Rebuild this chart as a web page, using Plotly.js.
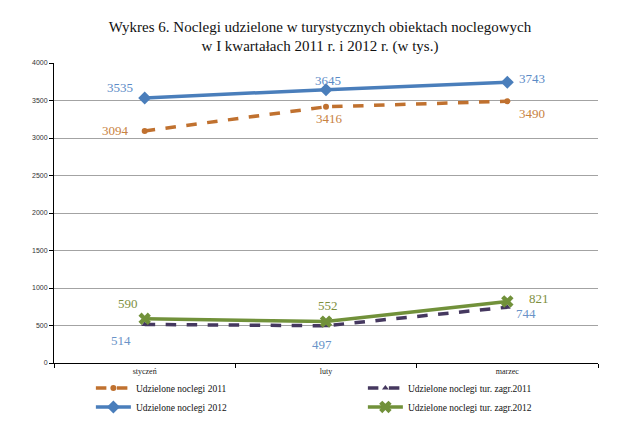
<!DOCTYPE html>
<html><head><meta charset="utf-8">
<script src="https://cdn.plot.ly/plotly-3.0.1.min.js"></script>
<style>body{margin:0;padding:0;background:#fff}#chart{width:640px;height:421px}</style>
</head><body><div id="chart"></div>
<script>
const months = ["styczeń", "luty", "marzec"];
const nocl2011 = [3094, 3416, 3490];
const nocl2012 = [3535, 3645, 3743];
const zagr2011 = [514, 497, 744];
const zagr2012 = [590, 552, 821];
const yTicks = [0, 500, 1000, 1500, 2000, 2500, 3000, 3500, 4000];

const cOrange = "#C0712F", cBlue = "#4A7EBB", cPurple = "#45385F", cGreen = "#71913A";
const lblOrange = "#C8823F", lblBlue = "#5B8AC6", lblGreen = "#7E8F3E", lblBlue2 = "#6A93C8";

const traces = [
  {x: months, y: nocl2011, name: "Udzielone noclegi 2011", mode: "lines+markers", legend: "legend",
   line: {color: cOrange, width: 3.5, dash: "dash"}, marker: {symbol: "circle", size: 6, color: cOrange}},
  {x: months, y: zagr2011, name: "Udzielone noclegi tur. zagr.2011", mode: "lines+markers", legend: "legend2",
   line: {color: cPurple, width: 3.5, dash: "dash"}, marker: {symbol: "triangle-up", size: 6, color: cPurple}},
  {x: months, y: nocl2012, name: "Udzielone noclegi 2012", mode: "lines+markers", legend: "legend",
   line: {color: cBlue, width: 3.5}, marker: {symbol: "diamond", size: 10, color: cBlue}},
  {x: months, y: zagr2012, name: "Udzielone noclegi tur. zagr.2012", mode: "lines+markers", legend: "legend2",
   line: {color: cGreen, width: 3.5}, marker: {symbol: "x", size: 11, color: cGreen, line: {width: 0}}}
];

const lf = {family: "Liberation Serif, Times New Roman, serif", size: 13};
function ann(i, arr, col, xs, ys) {
  return {x: months[i], y: arr[i], text: String(arr[i]), showarrow: false, xshift: xs, yshift: ys,
          font: Object.assign({}, lf, {color: col})};
}
const annotations = [
  ann(0, nocl2012, lblBlue, -25, 10), ann(1, nocl2012, lblBlue, 2, 9), ann(2, nocl2012, lblBlue, 25, 4),
  ann(0, nocl2011, lblOrange, -29, 0), ann(1, nocl2011, lblOrange, 3, -12), ann(2, nocl2011, lblOrange, 25, -12),
  ann(0, zagr2012, lblGreen, -17, 15), ann(1, zagr2012, lblGreen, 2, 16), ann(2, zagr2012, lblGreen, 32, 3),
  ann(0, zagr2011, lblBlue2, -24, -16), ann(1, zagr2011, lblBlue2, -4, -19), ann(2, zagr2011, lblBlue2, 19, -6)
];

const legFont = {family: "Liberation Serif, Times New Roman, serif", size: 9.5, color: "#111"};
const legCommon = {orientation: "h", xref: "container", yref: "container", xanchor: "left", y: 0.113, yanchor: "top",
                   traceorder: "normal", font: legFont, itemwidth: 35, tracegroupgap: 0, bgcolor: "rgba(0,0,0,0)",
                   entrywidth: 265, entrywidthmode: "pixels"};
const layout = {
  width: 640, height: 421,
  margin: {l: 54, r: 42, t: 63, b: 58},
  paper_bgcolor: "#fff", plot_bgcolor: "#fff",
  title: {text: "Wykres 6. Noclegi udzielone w turystycznych obiektach noclegowych<br>w I kwartałach 2011 r. i 2012 r. (w tys.)",
          font: {family: "Liberation Serif, Times New Roman, serif", size: 15, color: "#111"},
          x: 0.5, xanchor: "center", y: 0.925, yanchor: "top"},
  xaxis: {type: "category", range: [-0.5, 2.5], showgrid: false, showline: true, linecolor: "#000", linewidth: 1,
          ticks: "outside", ticklen: 4, tickcolor: "#000", tickson: "boundaries",
          tickfont: {family: "Liberation Serif, Times New Roman, serif", size: 8, color: "#222"}, fixedrange: true},
  yaxis: {range: [0, 4000], tickvals: yTicks, ticktext: yTicks.map(String), showgrid: true, gridcolor: "#a3a3a3", gridwidth: 1,
          showline: true, linecolor: "#000", linewidth: 1, ticks: "outside", ticklen: 4, tickcolor: "#000",
          zeroline: false, tickfont: {family: "Liberation Sans, Arial, sans-serif", size: 7, color: "#333"}},
  showlegend: true,
  legend: Object.assign({}, legCommon, {x: 0.142}),
  legend2: Object.assign({}, legCommon, {x: 0.567}),
  annotations: annotations
};
Plotly.newPlot("chart", traces, layout, {displayModeBar: false, staticPlot: true});
</script></body></html>
